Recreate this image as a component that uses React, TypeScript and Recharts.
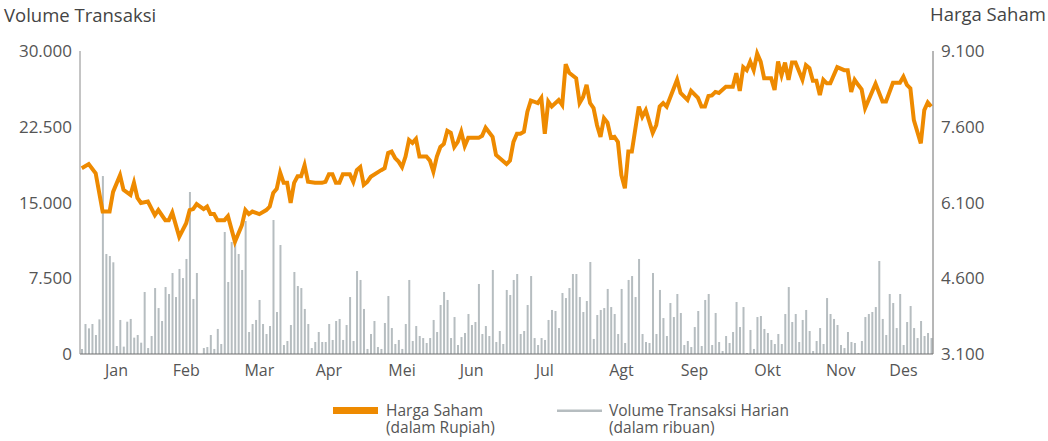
import React from 'react';
import { ComposedChart, Bar, Line, XAxis, YAxis } from 'recharts';

// Daily trading volume (thousands of shares)
const volume: number[] = [
  500, 2970, 2540, 2970, 1880, 3430, 17620, 9900, 9700, 9080,
  790, 3370, 730, 3200, 3470, 1620, 1880, 1120, 6140, 590,
  1780, 6530, 4550, 3270, 6630, 5940, 8020, 5640, 8420, 7520,
  9410, 16040, 5450, 8020, 0, 590, 690, 1880, 500, 2480,
  990, 12080, 7130, 11090, 11090, 9900, 8320, 13170, 2180, 2970,
  3370, 5350, 2970, 1980, 2770, 13270, 4160, 10790, 890, 1290,
  2870, 8120, 6730, 6530, 4460, 2970, 590, 1190, 2180, 1190,
  1190, 2970, 1390, 3270, 3470, 1390, 2870, 5640, 1290, 8220,
  7330, 4460, 500, 1980, 3270, 690, 500, 3070, 5740, 2570,
  990, 1390, 500, 2970, 7330, 1290, 2770, 1780, 1580, 1090,
  1580, 3370, 2180, 4850, 6140, 5350, 1580, 3660, 890, 1680,
  2080, 3960, 2870, 3170, 6930, 1980, 2770, 1780, 8320, 1190,
  2280, 990, 6340, 5840, 7330, 7920, 1980, 2280, 4850, 7720,
  1580, 890, 1580, 1390, 3370, 4360, 4260, 2570, 6040, 5540,
  6530, 7920, 7920, 5640, 4160, 5250, 9110, 1490, 3860, 4360,
  4550, 6440, 4650, 3960, 1980, 6440, 1090, 7330, 7720, 5640,
  9410, 1980, 1190, 1090, 8020, 1980, 6340, 3560, 1780, 5050,
  3660, 5940, 4060, 890, 1290, 690, 2670, 4260, 790, 5350,
  5940, 890, 4060, 1190, 300, 1780, 1090, 2180, 5150, 2670,
  4650, 100, 2380, 500, 3660, 3760, 2480, 2080, 1390, 990,
  1980, 990, 3960, 6630, 3170, 3960, 1190, 3370, 4360, 2280,
  300, 1290, 2570, 990, 5540, 3960, 3470, 2870, 890, 590,
  2180, 1190, 1090, 100, 1290, 3660, 3960, 4160, 4650, 9210,
  3470, 1880, 5940, 5050, 2570, 5940, 890, 3170, 4750, 2570,
  1580, 3270, 1780, 2080, 1580,
];

// Share price (Rupiah); null = no vertex read at that day
const price: (number | null)[] = [
  6780, null, 6860, null, 6680, null, 5920, null, 5920, 6310,
  null, 6640, 6350, null, 6250, 6490, 6190, 6090, null, 6120,
  null, 5850, 5950, null, 5750, 5750, 5900, null, 5420, null,
  5690, 5950, 5970, 6070, null, 5970, 6020, 5870, 5870, 5750,
  null, 5750, 5830, null, 5320, null, 5650, 5950, 5870, 5920,
  null, 5870, null, 5950, 6020, 6290, 6370, 6690, 6490, 6490,
  6090, 6490, 6620, 6620, 6840, 6510, null, 6490, null, 6490,
  6510, 6660, 6660, 6490, 6490, 6660, null, 6660, 6510, 6740,
  6800, 6450, 6510, 6610, null, null, 6740, 6780, 7080, 7110,
  6980, 6910, 6800, 7010, 7340, 7280, 7360, 7010, null, 7010,
  6930, 6710, 7010, 7200, 7260, 7520, 7480, 7200, 7300, 7500,
  7220, 7380, null, null, 7380, 7420, 7580, null, 7400, 7040,
  null, null, 6860, 6930, 7300, 7460, 7460, 7500, 7900, 8120,
  null, 8070, 8170, 7460, 8100, 8000, null, 8130, 8030, 8840,
  8670, null, 8560, 8070, 8190, 8430, 8070, 7970, 7630, 7400,
  7770, 7680, 7380, 7400, 7300, 6640, 6380, 7110, 7110, null,
  8000, 7800, 7930, null, 7480, 7630, 8000, 8070, 8000, null,
  null, 8530, 8270, null, 8130, 8310, null, 8170, 8000, 8000,
  8210, 8220, 8290, 8270, null, 8390, null, 8390, 8660, 8310,
  8780, 8720, 8890, 8720, 9050, 8890, 8560, null, 8560, 8330,
  8890, 8620, 8870, 8530, 8870, 8870, null, 8530, 8820, 8760,
  8510, 8510, 8230, 8530, 8460, 8460, null, 8780, null, 8720,
  8720, 8290, 8530, 8430, 8340, 7970, null, null, 8450, null,
  8100, 8100, null, 8470, null, 8470, 8590, 8430, 8360, 7730,
  null, 7270, 7930, 8080, 8000,
];

const monthLabels = ['Jan', 'Feb', 'Mar', 'Apr', 'Mei', 'Jun', 'Jul', 'Agt', 'Sep', 'Okt', 'Nov', 'Des'];
const monthTickIdx = [10, 30, 51, 71, 92, 112, 133, 155, 176, 197, 218, 236];
const volTicks = [0, 7500, 15000, 22500, 30000];
const priceTicks = [3100, 4600, 6100, 7600, 9100];

const data = volume.map((v, i) => ({ i, volume: v, price: price[i] }));

const fmt = (v: number) => String(v).replace(/\B(?=(\d{3})+(?!\d))/g, '.');

const FONT = '"Open Sans", sans-serif';
const ORANGE = '#ee8a00';
const GRAY = '#b6bdc0';

export default function App() {
  return (
    <div style={{ position: 'absolute', left: 0, top: 0, width: 1048, height: 441, overflow: 'hidden', fontFamily: FONT }}>
      <ComposedChart
        width={1048}
        height={441}
        data={data}
        margin={{ top: 51, right: 15, bottom: 57, left: 0 }}
        barSize={2}
        barCategoryGap={0}
        style={{ fontFamily: FONT }}
      >
        <XAxis
          dataKey="i"
          type="category"
          ticks={monthTickIdx}
          interval={0}
          tickFormatter={(v: number) => monthLabels[monthTickIdx.indexOf(v)] ?? ''}
          tickLine={false}
          tickMargin={5}
          axisLine={{ stroke: '#6e6e6e', strokeWidth: 1.2 }}
          height={30}
          tick={{ fill: '#555', fontSize: 16 }}
        />
        <YAxis
          yAxisId="vol"
          orientation="left"
          width={80}
          domain={[0, 30000]}
          ticks={volTicks}
          tickFormatter={fmt}
          tickLine={false}
          axisLine={{ stroke: '#8a8a8a' }}
          tick={{ fill: '#555', fontSize: 17 }}
        />
        <YAxis
          yAxisId="price"
          orientation="right"
          width={100}
          domain={[3100, 9100]}
          ticks={priceTicks}
          tickFormatter={fmt}
          tickLine={false}
          axisLine={{ stroke: '#6e6e6e' }}
          tick={{ fill: '#555', fontSize: 17, textAnchor: 'start' }}
        />
        <Bar yAxisId="vol" dataKey="volume" fill={GRAY} isAnimationActive={false} />
        <Line
          yAxisId="price"
          type="linear"
          dataKey="price"
          stroke={ORANGE}
          strokeWidth={4}
          dot={false}
          activeDot={false}
          connectNulls
          isAnimationActive={false}
        />
      </ComposedChart>
      <svg
        width={1048}
        height={441}
        style={{ position: 'absolute', left: 0, top: 0, pointerEvents: 'none', fontFamily: FONT }}
      >
        <text x={4} y={22} fontSize={18.5} fill="#444">Volume Transaksi</text>
        <text x={930} y={21} fontSize={18.5} fill="#444">Harga Saham</text>
        <rect x={333} y={407} width={45} height={7} fill={ORANGE} />
        <text x={386} y={416} fontSize={15.5} fill="#555">
          <tspan x={386} y={416}>Harga Saham</tspan>
          <tspan x={386} y={433}>(dalam Rupiah)</tspan>
        </text>
        <rect x={557} y={409.5} width={45} height={2.5} fill={GRAY} />
        <text x={609} y={416} fontSize={15.5} fill="#555">
          <tspan x={609} y={416}>Volume Transaksi Harian</tspan>
          <tspan x={609} y={433}>(dalam ribuan)</tspan>
        </text>
      </svg>
    </div>
  );
}
